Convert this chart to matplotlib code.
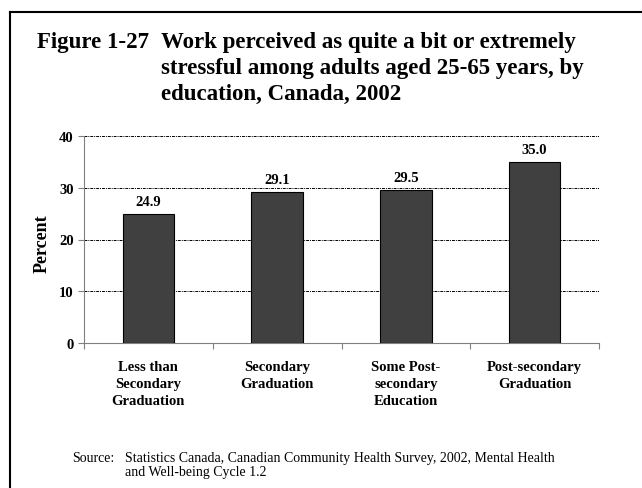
import matplotlib
matplotlib.use("Agg")
import matplotlib.pyplot as plt
from matplotlib.lines import Line2D
import matplotlib.transforms as mtransforms

categories = ["Less than\nSecondary\nGraduation", "Secondary\nGraduation",
              "Some Post-\nsecondary\nEducation", "Post-secondary\nGraduation"]
values = [24.9, 29.1, 29.5, 35.0]
yticks = [0, 10, 20, 30, 40]
title_num = "Figure 1-27"
title_lines = ["Work perceived as quite a bit or extremely",
               "stressful among adults aged 25-65 years, by",
               "education, Canada, 2002"]
source_lines = ["Statistics Canada, Canadian Community Health Survey, 2002, Mental Health",
                "and Well-being Cycle 1.2"]

W, H = 642, 489
fig = plt.figure(figsize=(W/100, H/100), dpi=100)
plt.rcParams['font.family'] = ['Liberation Serif', 'DejaVu Serif']

def fx(x): return x / W
def fy(y): return 1 - y / H

# frame
fig.add_artist(Line2D([fx(10), fx(10)], [fy(13), fy(489)], color='black', lw=1.5))
fig.add_artist(Line2D([fx(10), fx(642)], [fy(13), fy(13)], color='black', lw=1.5))

ax = fig.add_axes([fx(84), fy(344), fx(599) - fx(84), fy(137) - fy(344)])
x = list(range(len(values)))
bars = ax.bar(x, values, width=0.4, color='#404040', edgecolor='black', linewidth=0.8, zorder=3)
ax.set_xlim(-0.5, len(values) - 0.5)
ax.set_ylim(0, 40)
ax.set_yticks(yticks)
ax.set_yticklabels([str(t) for t in yticks], fontweight='bold', fontsize=10.5)
ax.yaxis.grid(True, linestyle=(0, (3, 1, 1, 1)), color='black', linewidth=0.7, zorder=0)
ax.spines['top'].set_visible(False)
ax.spines['right'].set_visible(False)
ax.spines['left'].set_color('#808080')
ax.spines['bottom'].set_color('#808080')
ax.set_xticks([i - 0.5 for i in range(len(values) + 1)])
ax.set_xticklabels([])
ax.tick_params(axis='x', direction='out', length=4, color='#808080')
ax.tick_params(axis='y', direction='out', length=4, color='#808080', pad=3.5)

# category labels (each line placed separately)
trans = mtransforms.blended_transform_factory(ax.transData, fig.transFigure)
line_baselines = [371, 388, 405]
for i, lab in enumerate(categories):
    for j, line in enumerate(lab.split("\n")):
        ax.text(i, fy(line_baselines[j]), line, transform=trans, ha='center', va='baseline',
                fontweight='bold', fontsize=10.5)

for b, v in zip(bars, values):
    ax.annotate(f"{v:.1f}", (b.get_x() + b.get_width() / 2, v), xytext=(0, 6.5),
                textcoords='offset points', ha='center', va='baseline',
                fontweight='bold', fontsize=10.5)
fig.text(fx(42), fy(244), "Percent", fontweight='bold', fontsize=13, rotation=90,
         ha='center', va='center')

fig.text(fx(37), fy(48), title_num, fontweight='bold', fontsize=16.5, ha='left', va='baseline')
for k, line in enumerate(title_lines):
    fig.text(fx(161), fy(48 + 26 * k), line, fontweight='bold', fontsize=16.5,
             ha='left', va='baseline')

fig.text(fx(72), fy(462), "Source:", fontsize=10, ha='left', va='baseline')
for k, line in enumerate(source_lines):
    fig.text(fx(125), fy(462 + 14.5 * k), line, fontsize=10, ha='left', va='baseline')

fig.savefig("out.png", dpi=100)
